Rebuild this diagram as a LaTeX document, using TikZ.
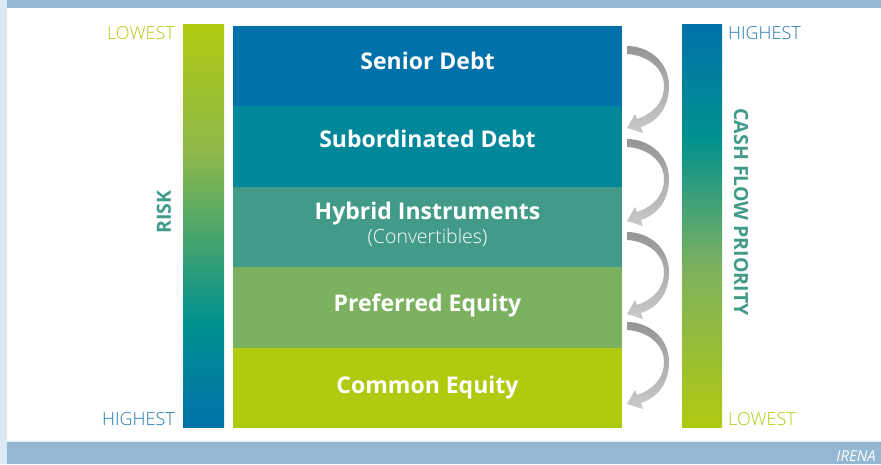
\documentclass[tikz,border=0pt]{standalone}
\usepackage{fontspec}
\setmainfont{Open Sans}
\newfontfamily\lightfont{Open Sans Light}
\usetikzlibrary{positioning}

\definecolor{sdc}{HTML}{0071A9}
\definecolor{sbc}{HTML}{00889A}
\definecolor{hic}{HTML}{419B88}
\definecolor{pec}{HTML}{7CB15F}
\definecolor{cec}{HTML}{B0CA10}
\definecolor{tealc}{HTML}{00918F}
\definecolor{greenc}{HTML}{8DB84A}
\definecolor{framec}{HTML}{93B8D3}
\definecolor{edgec}{HTML}{DCE8F4}
\definecolor{arrowdark}{HTML}{959595}
\definecolor{arrowlight}{HTML}{CACACA}
\definecolor{hiblue}{HTML}{2279AE}

\pgfdeclareverticalshading{riskshade}{100bp}{color(0bp)=(sdc); color(25bp)=(sdc);
  color(38bp)=(tealc); color(59bp)=(greenc); color(75bp)=(cec); color(100bp)=(cec)}
\pgfdeclareverticalshading{flowshade}{100bp}{color(0bp)=(cec); color(25bp)=(cec);
  color(45bp)=(pec); color(61bp)=(tealc); color(75bp)=(sdc); color(100bp)=(sdc)}

\tikzset{
  band/.style={minimum width=389pt, minimum height=80.5pt, inner sep=0pt, outer sep=0pt},
  bandtext/.style={anchor=base, inner sep=0pt, text=white,
    font=\bfseries\fontsize{23}{27}\selectfont},
  sidetext/.style={inner sep=0pt, font=\lightfont\fontsize{18}{20}\selectfont},
  axistext/.style={inner sep=0pt, text=hic, font=\bfseries\fontsize{19.5}{22}\selectfont}
}

% curved arrow from one layer down to the next, #1 = top of its tail
\newcommand\flowarrow[1]{%
  \shade[top color=arrowdark, bottom color=arrowlight, shift={(627,#1)}]
    (0,0) .. controls (22,0) and (42,16) .. (42,40)
    .. controls (42,60) and (32,75) .. (14,81)
    -- (16,87) -- (0,82) -- (8,68) -- (10,73)
    .. controls (27,67) and (37,56) .. (37,40)
    .. controls (37,22) and (20,9) .. (0,8) -- cycle;}

\begin{document}
\begin{tikzpicture}[x=1pt, y=-1pt]
  \useasboundingbox (0,0) rectangle (881,464);
  \fill[white] (0,0) rectangle (881,464);
  \fill[edgec] (0,0) rectangle (7,464);
  \fill[framec] (7,0) rectangle (881,8);
  \fill[framec] (7,442) rectangle (881,464);
  \draw[edgec, line width=1pt] (7,441.5) -- (881,441.5);
  \node (src) [anchor=base east, inner sep=0pt, text=white,
    font=\itshape\fontsize{15}{17}\selectfont] at (876,461) {IRENA};

  % layers
  \node (sd) [band, fill=sdc] at (427.5,66) {};
  \node (sb) [band, fill=sbc, below=0pt of sd] {};
  \node (hi) [band, fill=hic, below=0pt of sb] {};
  \node (pe) [band, fill=pec, below=0pt of hi] {};
  \node (ce) [band, fill=cec, below=0pt of pe] {};

  \node (sdt) [bandtext] at (427.5,69) {Senior Debt};
  \node (sbt) [bandtext] at (427.5,147.3) {Subordinated Debt};
  \node (hit) [bandtext] at (427.5,219.5) {Hybrid Instruments};
  \node (cvt) [bandtext, font=\lightfont\fontsize{19.5}{22}\selectfont] at (427.5,243) {(Convertibles)};
  \node (pet) [bandtext] at (427.5,311.5) {Preferred Equity};
  \node (cet) [bandtext] at (427.5,393) {Common Equity};

  % side bars
  \shade[shading=riskshade] (183,24) rectangle (224,427);
  \shade[shading=flowshade] (682,24) rectangle (722,427);

  \node (rlo) [sidetext, anchor=east, text=cec] at (175,33) {LOWEST};
  \node (rhi) [sidetext, anchor=east, text=hiblue] at (175,419) {HIGHEST};
  \node (fhi) [sidetext, anchor=west, text=hiblue] at (728,33) {HIGHEST};
  \node (flo) [sidetext, anchor=west, text=cec] at (728,419) {LOWEST};

  \node (risk) [axistext, rotate=90] at (164,212) {RISK};
  \node (cfp) [axistext, rotate=-90] at (741,212) {CASH FLOW PRIORITY};

  % arrows
  \flowarrow{46}
  \flowarrow{139}
  \flowarrow{232}
  \flowarrow{322}
\end{tikzpicture}
\end{document}
